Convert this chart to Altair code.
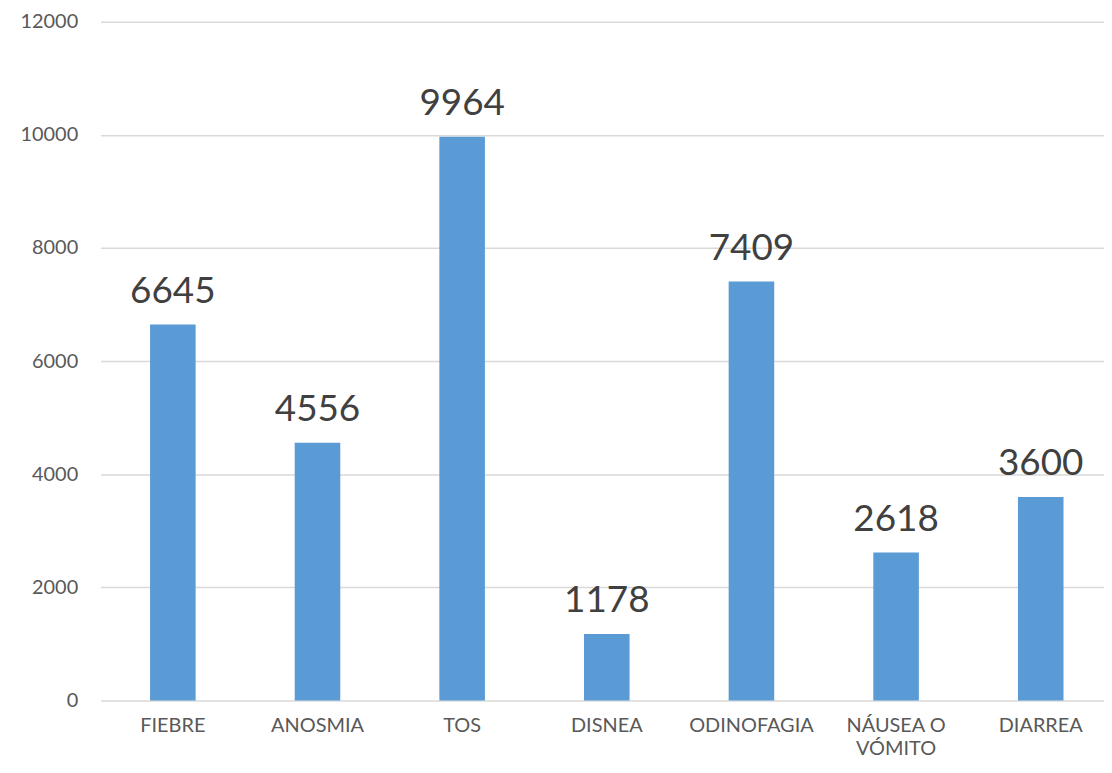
import altair as alt
import pandas as pd

categories = ["FIEBRE", "ANOSMIA", "TOS", "DISNEA", "ODINOFAGIA", "NÁUSEA O VÓMITO", "DIARREA"]
values = [6645, 4556, 9964, 1178, 7409, 2618, 3600]
y_ticks = [0, 2000, 4000, 6000, 8000, 10000, 12000]

df = pd.DataFrame({"cat": categories, "val": values})

x_scale = alt.Scale(paddingInner=0.685, paddingOuter=0.311, align=0.55)
y_scale = alt.Scale(domain=[0, 12000], nice=False)
x_enc = alt.X(
    "cat:N",
    sort=categories,
    scale=x_scale,
    axis=alt.Axis(
        title=None,
        labelAngle=0,
        labelFont="Lato",
        labelFontSize=20,
        labelColor="#595959",
        labelPadding=15,
        labelLineHeight=23,
        labelExpr="datum.label == 'NÁUSEA O VÓMITO' ? ['NÁUSEA O', 'VÓMITO'] : datum.label",
        ticks=False,
        domain=False,
        grid=False,
    ),
)
y_enc = alt.Y(
    "val:Q",
    scale=y_scale,
    axis=alt.Axis(
        title=None,
        values=y_ticks,
        format="d",
        labelFont="Lato",
        labelFontSize=20,
        labelColor="#595959",
        labelPadding=23,
        ticks=False,
        domain=False,
        grid=True,
        gridColor="#D9D9D9",
        gridWidth=1.5,
    ),
)

base = alt.Chart(df)
bars = base.mark_bar(color="#5B9BD5").encode(x=x_enc, y=y_enc)
labels = base.mark_text(
    font="Lato", fontSize=37, color="#404040", baseline="alphabetic", dy=-22
).encode(
    x=alt.X("cat:N", sort=categories, scale=x_scale),
    y=alt.Y("val:Q", scale=y_scale),
    text="val:Q",
)

chart = (
    alt.layer(bars, labels)
    .properties(
        width=1008,
        height=682,
        autosize=alt.AutoSizeParams(type="none"),
        padding={"left": 93, "top": 12, "right": 0, "bottom": 63},
    )
    .configure_view(stroke=None)
)

chart.save("out.html", embed_options={"renderer": "svg", "actions": False})
